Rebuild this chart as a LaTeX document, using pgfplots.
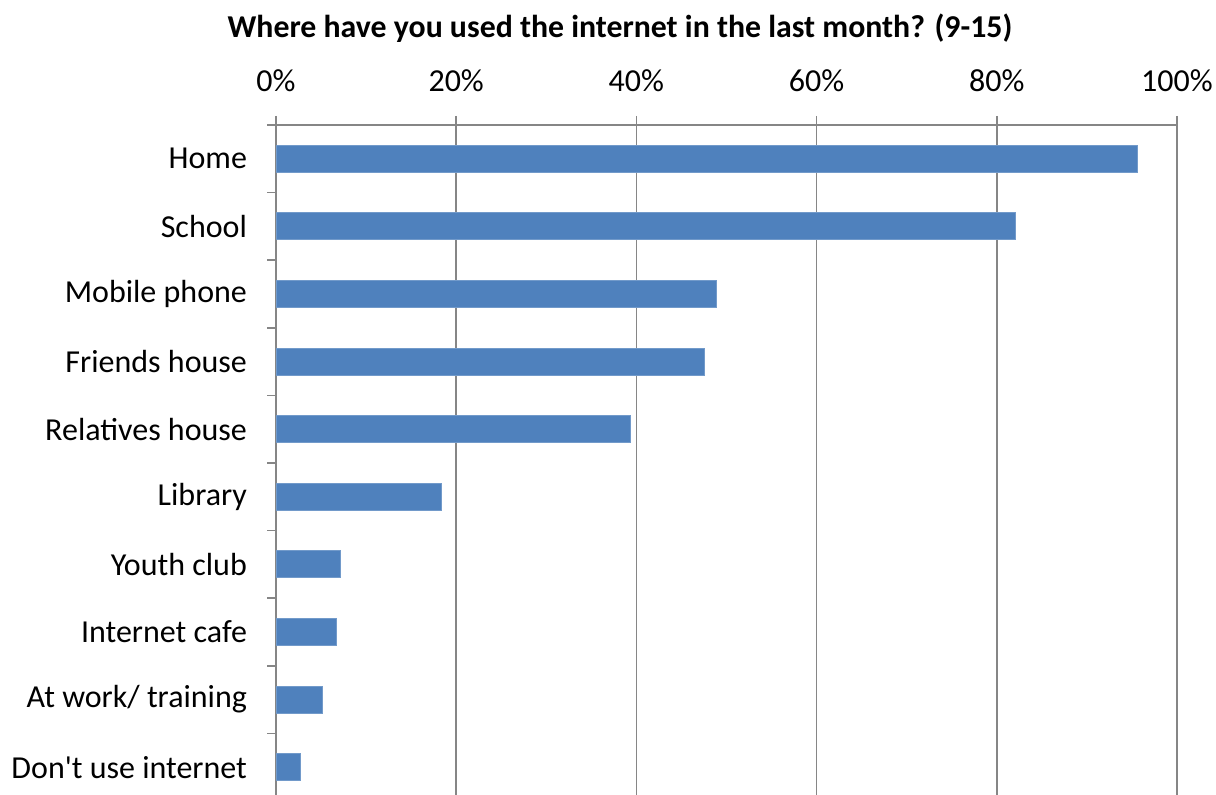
\documentclass[border=0pt]{standalone}
\usepackage{pgfplots}
\pgfplotsset{compat=1.18}
\usepackage{fontspec}
\setmainfont{Carlito}[Ligatures=TeXOff]
\definecolor{barblue}{RGB}{79,129,189}
\definecolor{axgray}{RGB}{134,134,134}
\begin{document}
\begin{tikzpicture}
\useasboundingbox (0,0) rectangle (608pt,397.5pt);
\node[font=\fontsize{15.9}{18}\selectfont\bfseries] at (310pt,383.5pt) {Where have you used the internet in the last month? (9-15)};
\begin{axis}[
  at={(138pt,335pt)}, anchor=north west,
  scale only axis, width=450.5pt, height=338pt,
  xbar, bar width=13.5pt,
  xmin=0, xmax=100,
  ymin=-0.5, ymax=9.5, y dir=reverse,
  axis x line*=top, axis y line*=left,
  axis line style={axgray, line width=0.8pt},
  xtick={0,20,40,60,80,100},
  xticklabels={0\%,20\%,40\%,60\%,80\%,100\%},
  ytick={0,...,9},
  yticklabels={Home,School,Mobile phone,Friends house,Relatives house,Library,Youth club,Internet cafe,At work/ training,Don't use internet},
  minor ytick={-0.5,0.5,...,9.5},
  major y tick style={draw=none},
  minor y tick style={axgray, line width=0.8pt},
  x tick style={axgray, line width=0.8pt},
  tick align=outside,
  major tick length=4.5pt, minor tick length=4.5pt,
  xmajorgrids, grid style={axgray, line width=0.8pt},
  ticklabel style={font=\fontsize{16}{18}\selectfont},
  yticklabel style={xshift=-6.5pt},
  xticklabel style={yshift=8.5pt},
  clip=false,
]
\addplot[fill=barblue, draw=barblue!80!white] coordinates {
(95.6,0) (82.1,1) (48.9,2) (47.5,3) (39.3,4) (18.4,5) (7.1,6) (6.7,7) (5.2,8) (2.7,9)
};
\end{axis}
\end{tikzpicture}
\end{document}
